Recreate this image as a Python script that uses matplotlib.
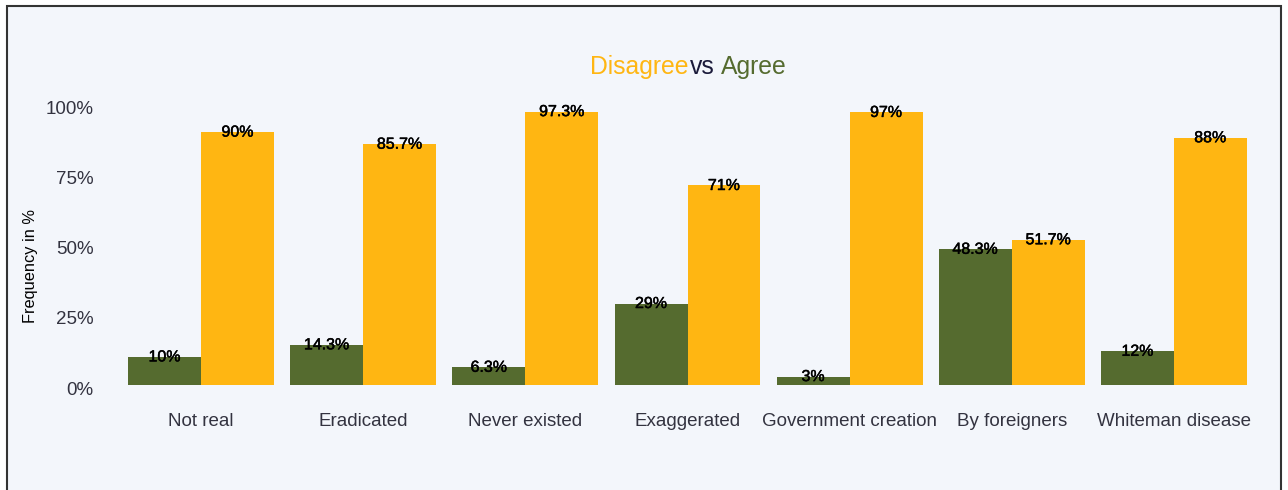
import matplotlib
matplotlib.use("Agg")
import matplotlib.pyplot as plt
from matplotlib.patches import Rectangle
from matplotlib.transforms import ScaledTranslation
import matplotlib.patheffects as pe
import numpy as np

plt.rcParams['font.family'] = ['Liberation Sans', 'DejaVu Sans']

categories = ["Not real", "Eradicated", "Never existed", "Exaggerated",
              "Government creation", "By foreigners", "Whiteman disease"]
agree = [10, 14.3, 6.3, 29, 3, 48.3, 12]
disagree = [90, 85.7, 97.3, 71, 97, 51.7, 88]
agree_labels = ["10%", "14.3%", "6.3%", "29%", "3%", "48.3%", "12%"]
disagree_labels = ["90%", "85.7%", "97.3%", "71%", "97%", "51.7%", "88%"]
yticks = [0, 25, 50, 75, 100]
ytick_labels = ["0%", "25%", "50%", "75%", "100%"]

GREEN = "#556b2f"
YELLOW = "#ffb612"
BG = "#f3f6fb"
W, H = 1288, 490

fig = plt.figure(figsize=(W / 100, H / 100), dpi=100)
fig.patch.set_facecolor("white")
fig.patches.append(Rectangle((7 / W, -0.05), (1281 - 7) / W, 1.05 - 6 / H,
                             transform=fig.transFigure, facecolor=BG,
                             edgecolor="#333333", linewidth=1.5, zorder=-10))

ax = fig.add_axes([120 / W, (H - 385) / H, (1255 - 120) / W, 281 / H])
ax.set_facecolor("none")
ax.set_zorder(1)
x = np.arange(len(categories))
bw = 0.45
ax.bar(x - bw / 2, agree, width=bw, color=GREEN)
ax.bar(x + bw / 2, disagree, width=bw, color=YELLOW)
stroke = [pe.withStroke(linewidth=0.35, foreground="black")]
for i in range(len(categories)):
    ax.text(x[i] - bw / 2, agree[i], agree_labels[i], ha="center", va="center",
            fontsize=11.5, color="black", path_effects=stroke)
    ax.text(x[i] + bw / 2, disagree[i], disagree_labels[i], ha="center", va="center",
            fontsize=11.5, color="black", path_effects=stroke)

ax.set_xlim(-0.5, len(categories) - 0.5)
ax.set_ylim(0, 100)
ax.set_xticks(x)
ax.set_xticklabels(categories, fontsize=13.5, color="#333340")
ax.set_yticks(yticks)
ax.set_yticklabels(ytick_labels, fontsize=13.5, color="#333340")
ax.tick_params(axis="x", length=0, pad=20.5)
ax.tick_params(axis="y", length=0, pad=19)
off = ScaledTranslation(0, -3 / 100, fig.dpi_scale_trans)
for lbl in ax.get_yticklabels():
    lbl.set_transform(lbl.get_transform() + off)
for s in ax.spines.values():
    s.set_visible(False)

fig.text(31 / W, 1 - 266 / H, "Frequency in %", rotation=90, fontsize=11.8,
         color="black", ha="center", va="center")

# Title with coloured parts
parts = [("Disagree", YELLOW), ("vs", "#1a1a3a"), ("Agree", GREEN)]
fig.canvas.draw()
r = fig.canvas.get_renderer()
texts = []
for s, c in parts:
    t = fig.text(0, 1 - 67 / H, s, fontsize=17.8, color=c, va="center", ha="left", zorder=2)
    texts.append(t)
gaps = [2, 6]
widths = [t.get_window_extent(r).width for t in texts]
total = sum(widths) + sum(gaps)
xs = 688 - total / 2
for k, (t, w) in enumerate(zip(texts, widths)):
    t.set_x(xs / W)
    xs += w + (gaps[k] if k < len(gaps) else 0)

fig.savefig("out.png", dpi=100, facecolor=fig.get_facecolor())
